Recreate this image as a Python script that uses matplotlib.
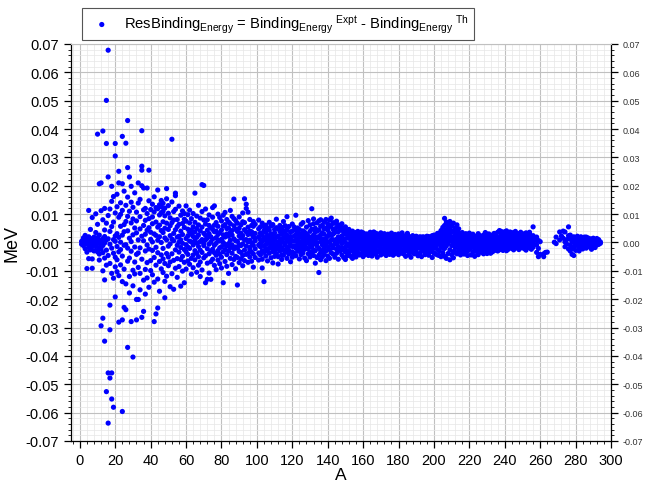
import numpy as np
import matplotlib
matplotlib.use("Agg")
import matplotlib.pyplot as plt
from matplotlib.ticker import MultipleLocator, FuncFormatter

plt.rcParams['font.family'] = ['Liberation Sans', 'DejaVu Sans']
plt.rcParams['mathtext.default'] = 'regular'

# residuals per mass number A, in keV (plotted as MeV)
light_rows = [
    (1, [0.4, -0.6]), (2, [1.6, -0.3, -1.1]), (3, [0.8, -2.2, 2.5]),
    (4, [-9.2, -0.5, 1.2, -3.4]), (5, [11.3, 0.3, -1.8, -5.7, 2.0]),
    (6, [-0.9, 1.4, -2.6, 4.6]), (7, [-9.1, -5.8, 0.6, -1.5, 8.8]),
    (8, [0.2, -3.0, 1.9, -0.7]), (9, [10.1, -1.2, 0.9, -2.8, 3.5]),
    (10, [38.2, -0.4, 1.7, -3.3, 0.0, 6.4]), (11, [20.7, -1.9, 2.6, -4.1, 0.8, -6.2]),
    (12, [-29.4, 21.0, 0.5, -2.4, 11.2, -0.9]), (13, [-26.7, 39.3, -10.0, 1.4, -3.6, 8.0, -1.1]),
    (14, [-34.8, -13.2, 4.4, -0.2, 2.1, -5.5, 12.0]), (15, [50.1, 34.9, -52.6, 0.9, -2.7, 6.8, -8.0]),
    (16, [67.8, -46.0, -63.7, 23.1, -4.6, 1.3, 9.5]), (17, [-47.8, -22.1, -30.8, 11.8, -0.6, 3.9, -7.4]),
    (18, [-46.0, 19.8, -55.2, 5.6, -2.0, 14.5, -10.9]), (19, [-58.1, 7.2, -3.8, 1.0, 16.2, -12.6]),
    (20, [34.9, 30.5, -19.2, 10.4, -5.2, 2.3, -8.6, 0.4]), (21, [-6.1, 12.6, 3.1, -1.4, 17.0, -10.3]),
    (22, [25.1, 21.0, -28.1, -3.3, 8.9, -11.7, 1.8]), (23, [-2.5, 14.0, 5.7, -7.9, 0.1, 9.9]),
    (24, [37.4, 20.7, -27.3, -59.6, -4.8, 11.3, 2.6, -13.8]), (25, [-22.9, -9.4, 6.3, 18.1, -1.0, 3.8]),
    (26, [35.0, -23.7, -0.8, 7.4, -14.6, 13.1]), (27, [43.0, 26.4, -37.0, 4.1, -6.6, 9.2, -2.0, 16.0]),
    (28, [23.1, -12.0, 1.5, -5.5, 11.0, -17.8]), (29, [19.8, -27.9, 6.9, -3.1, 0.3, 14.2]),
    (30, [-40.4, 8.3, -9.8, 2.7, -15.3, 12.4]), (31, [-1.6, 5.1, -6.9, 17.5, -11.1]),
    (32, [-27.3, 3.4, 10.7, -20.1, -4.2, 7.6]), (33, [-20.1, 21.0, -8.8, 0.9, 13.9, -3.7]),
    (34, [15.2, -10.9, 4.8, -1.9, 9.1, -16.7]), (35, [39.4, 26.9, 25.5, 20.0, -26.4, 2.2, -5.9]),
    (36, [-24.3, 19.2, -13.3, 6.0, 0.6, 11.5]), (37, [12.0, -3.0, 7.8, -9.5, 2.9, -18.2]),
    (38, [19.2, -7.1, 4.3, -0.9, 10.2, -12.5]), (39, [25.5, -15.8, 5.2, -2.3, 8.4, 14.7]),
]

medium_rows = [
    (40, [-6.4, 1.1, 11.6, -9.9, 3.6]), (41, [13.5, -2.8, 6.6, -11.4, 0.2, 9.0]),
    (42, [-27.9, 16.1, -5.3, 3.0, -14.0, 10.8]), (43, [-25.2, 7.2, -1.7, 12.3, -8.0, 2.5]),
    (44, [-23.1, 18.5, 11.9, -3.6, 5.4, -12.9, 0.8]), (45, [13.3, 9.7, -6.7, 2.0, -17.2, 6.1]),
    (46, [12.6, 14.8, 4.2, -4.4, -9.3, 0.0, 10.5]), (47, [11.0, 13.8, 7.3, -2.1, -10.6, 3.5, -5.8]),
    (48, [-19.5, 12.1, 1.6, -7.4, 9.4, -13.7, 5.0]), (49, [19.0, 15.4, -3.9, 6.8, -11.9, 0.9]),
    (50, [10.3, -1.3, 4.6, -8.2, 13.0, -5.1]), (51, [-6.9, 8.7, 2.4, -15.6, 5.9, -0.5]),
    (52, [36.4, 14.3, -4.0, 7.0, -11.0, 1.2]), (53, [-16.5, 10.9, 3.2, -6.3, 0.6, 7.9]),
    (54, [17.4, 16.5, -2.6, 4.5, -9.1, 11.7]), (55, [8.1, -5.7, 1.9, -12.3, 5.6, -1.0]),
    (56, [12.8, -3.4, 6.4, -8.5, 2.2, 0.1]), (57, [-15.4, 9.6, -1.8, 4.0, -6.0, 0.9]),
    (58, [11.1, -4.9, 2.8, -10.1, 6.7, -0.3]), (59, [10.2, -14.2, 5.3, -2.5, 8.2, -7.0]),
    (60, [7.5, -3.3, 1.4, -9.4, 12.9, -0.8]), (61, [-4.2, 4.7, 9.8, -1.6, 2.3, -6.5]),
    (62, [6.9, -2.1, 0.5, -7.7, 11.4, 3.6]), (63, [-5.6, 2.9, -11.2, 8.4, 0.2, 4.4]),
    (64, [10.2, -0.9, 5.5, -4.4, -8.9, 2.1]), (65, [17.4, 3.7, -2.9, 7.1, -6.1, 0.6]),
    (66, [-3.8, 1.8, 9.3, -10.5, 4.9, -0.2]), (67, [6.2, -1.4, 2.6, -5.0, 13.1, -8.0]),
    (68, [-2.7, 4.1, 0.3, -6.9, 8.6, -12.0]), (69, [20.4, 5.4, -3.5, 1.0, -9.7, 10.9]),
    (70, [20.1, 7.9, -1.1, 3.2, -5.4, -0.4]), (71, [-14.2, 2.5, -4.7, 6.5, 0.9, 11.8]),
    (72, [-13.0, 4.3, -2.2, 8.0, -7.3, 1.5]), (73, [6.0, -0.6, 3.1, -4.0, 9.7, -10.8]),
    (74, [-13.0, 2.0, -3.1, 5.2, 0.1, -6.8]), (75, [8.9, -2.4, 4.6, -5.9, 1.2, 12.3]),
    (76, [12.9, -1.0, 3.8, -8.1, 6.1, -3.6]), (77, [-4.5, 1.7, 7.0, -0.3, -9.6, 4.0]),
    (78, [5.7, -2.9, 0.8, -6.2, 10.0, 2.8]), (79, [-1.9, 3.4, -7.5, 8.8, 0.5, -4.1]),
    (80, [4.4, -5.2, 1.1, 7.6, -1.5, -9.0]), (81, [9.6, -14.2, 2.7, -3.3, 5.8, 0.0]),
    (82, [-2.5, 6.3, -6.7, 1.9, 10.6, -0.7]), (83, [3.0, -4.3, 8.1, -1.2, -8.4, 4.9]),
    (84, [-0.4, 5.1, -3.0, 2.2, -10.9, 7.2]), (85, [6.6, -1.8, 3.5, -5.6, 0.7, 11.3]),
    (86, [-7.8, 2.6, -0.9, 9.2, 4.2, -3.8]), (87, [15.3, 1.3, -2.3, 5.9, -6.0, 8.4]),
    (88, [-4.9, 0.6, 4.7, -1.6, 7.7, -9.3]), (89, [-15.0, 3.9, -2.0, 6.8, 0.4, -5.3]),
    (90, [2.3, -7.1, 5.0, -0.8, 9.0, -3.2]), (91, [-3.5, 1.6, 6.2, -5.8, 3.3, -1.1]),
    (92, [7.3, -0.5, 2.4, -4.6, 10.4, -8.2]), (93, [15.4, 4.5, -2.7, 0.9, -6.4, 7.0]),
    (94, [13.5, 12.0, -1.3, 3.7, -4.2, 1.0]), (95, [10.7, -3.9, 5.4, 0.2, -7.0, 2.8]),
    (96, [-1.7, 4.0, -5.1, 8.1, 0.8, -2.6]), (97, [6.0, -0.1, 2.9, -6.6, 3.8, -3.4]),
    (98, [-4.0, 1.9, 5.7, -1.0, 7.4, -8.7]), (99, [3.2, -2.2, 0.6, -5.3, 6.4, 1.4]),
    (101, [-0.9, 4.8, -3.7, 2.0, -6.2, 7.9]), (102, [5.5, -1.5, 1.0, -4.4, 3.3, -0.3]),
    (103, [-2.9, 2.6, 6.8, -5.9, 0.4, -9.0]), (104, [-13.8, 4.1, -1.2, 1.7, -3.5, 5.6]),
    (105, [0.9, -4.8, 3.6, -0.7, 6.1, -2.3]), (106, [-3.1, 1.2, 5.0, -6.5, 2.5, -0.4]),
    (107, [4.3, -1.9, 0.3, 7.1, -3.8, 2.1]), (108, [-0.6, 3.0, -5.4, 1.5, 5.8, -2.0]),
    (109, [2.7, -3.2, 6.3, -0.2, -7.2, 1.1]), (110, [-1.3, 4.6, -2.6, 0.7, 3.4, -4.9]),
    (111, [5.2, -0.8, 1.8, -3.9, 8.2, -1.7]), (112, [-2.2, 2.3, -5.0, 4.9, 0.1, -7.6]),
    (113, [3.9, -1.1, 6.0, -3.0, 1.3, -0.5]), (114, [-4.4, 0.5, 2.9, -1.8, 5.3, -6.0]),
    (115, [1.6, -2.7, 4.2, 0.0, -4.5, 7.4]), (116, [-0.2, 3.5, -3.4, 1.9, -1.0, 5.9]),
    (117, [4.5, -5.6, 0.8, 2.6, -2.1, 9.1]), (118, [-1.5, 1.4, -4.1, 5.6, 0.3, -2.8]),
    (119, [2.1, -0.9, 3.7, -6.8, 1.0, -3.6]), (120, [-3.3, 4.0, 0.6, -1.4, 6.5, -5.2]),
    (121, [2.2, -1.4, 0.4, -3.9, 5.5]),
]

heavy_rows = [
    (122, [0.8, -2.0, 2.8, -4.7, 9.6, 4.4]), (123, [-1.0, 3.3, -3.1, 1.2, 5.1, -0.6]),
    (124, [4.6, -1.7, 0.2, -5.8, 2.4, -3.0]), (125, [-2.6, 1.8, 6.4, -0.4, -4.3, 3.1]),
    (126, [1.3, -3.7, 4.1, -1.2, 0.5, 7.0]), (127, [-0.7, 2.5, -5.5, 3.6, -2.4, 1.0]),
    (128, [3.0, -0.3, -6.4, 5.4, 1.7, -1.9]), (129, [-4.0, 0.9, 2.2, -2.2, 7.7, -0.1]),
    (130, [1.9, -5.1, 3.9, -0.8, 6.2, -3.3]), (131, [11.9, -1.6, 1.1, 4.7, -3.9, 0.4]),
    (132, [2.6, -0.5, 6.6, -4.6, -2.7, 8.3]), (133, [-2.9, 3.8, 0.7, -7.3, 5.0, 1.5]),
    (134, [4.0, -1.3, 2.0, -5.3, 6.9, -0.2]), (135, [-10.6, 1.6, -2.1, 4.4, 7.6, -4.5]),
    (136, [0.3, 5.7, -3.5, 2.7, -6.1, 8.0]), (137, [3.4, -0.9, 6.1, -2.8, 1.2, -5.0]),
    (138, [-1.8, 2.9, 7.3, -4.2, 0.6, 4.8]), (139, [5.0, -3.0, 1.4, 8.1, -0.4, -6.4]),
    (140, [0.2, 4.3, -1.5, 6.5, -4.8, 2.2]), (141, [7.9, -2.5, 3.2, 0.1, 5.6, -5.6]),
    (142, [2.5, -1.0, 6.0, -3.6, 8.6, 0.9]), (143, [-4.1, 4.6, 1.0, 7.0, -1.9, 2.9]),
    (144, [6.8, -0.6, 3.5, -5.2, 0.5, 4.0]), (145, [1.1, 5.3, -2.4, 7.5, -3.8, -0.2]),
    (146, [3.8, -1.4, 6.2, 0.3, -5.9, 2.0]), (147, [-2.0, 4.4, 0.8, 5.8, -3.1, 1.6]),
    (148, [5.1, -0.3, 2.3, -4.4, 6.6, -1.8]), (149, [0.5, 3.6, -2.6, 4.9, -5.3, 1.2]),
    (150, [2.9, -1.6, 5.5, -3.3, 0.0, -6.0]), (151, [-0.8, 4.1, 1.5, -2.9, 3.0, -4.7]),
    (152, [3.3, -0.5, 1.9, -3.7, 4.6, -1.3]), (153, [0.7, 2.5, -2.2, -4.9, 3.8, -0.9]),
    (154, [2.0, -1.2, 4.0, -3.0, 0.4, -5.6]), (155, [-0.3, 3.1, -1.8, 1.3, -4.2, 2.4]),
    (156, [1.6, -2.8, 3.5, -0.6, -5.1, 0.9]), (157, [-1.5, 2.1, 0.2, -3.6, 3.9, -2.2]),
    (158, [2.7, -0.7, -4.4, 1.0, 3.2, -1.9]), (159, [-2.4, 1.7, -0.2, 3.7, -4.0, 0.6]),
    (160, [0.9, -3.2, 2.6, -1.1, -5.0, 3.4]), (161, [-0.5, 2.9, -2.5, 0.3, 1.8, -4.3]),
    (162, [3.0, -1.6, 0.8, -3.9, 2.2, -0.1]), (163, [-1.0, 1.4, -4.6, 2.8, 0.1, -2.7]),
    (164, [2.3, -0.4, 3.6, -3.4, 1.1, -1.5]), (165, [-2.1, 0.9, -0.6, 3.1, -4.8, 1.9]),
    (166, [1.2, -2.4, 2.0, -0.8, -3.7, 3.7]), (167, [-0.2, 3.3, -1.7, 0.6, -4.1, 1.4]),
    (168, [2.6, -3.0, 0.4, -1.3, 3.0, -5.2]), (169, [-1.4, 1.9, -3.3, 2.4, 0.0, -0.9]),
    (170, [0.6, -2.0, 3.4, -4.4, 1.5, -0.5]), (171, [-2.8, 2.7, -0.1, 1.0, -3.6, 0.2]),
    (172, [1.8, -1.1, -4.0, 3.1, -2.3, 0.7]), (173, [-0.6, 2.2, -2.9, 0.3, 1.3, -4.6]),
    (174, [2.9, -3.5, 0.9, -1.6, -0.2, 1.9]), (175, [-1.9, 0.6, -4.2, 2.6, -2.6, 1.0]),
    (176, [0.3, -1.4, 2.3, -3.1, 3.3, -0.7]), (177, [-2.3, 1.1, -0.3, -4.5, 2.0, 0.8]),
    (178, [1.4, -2.6, 2.8, -0.9, -3.9, 0.0]), (179, [-0.4, 1.6, -3.2, 0.9, 2.5, -1.8]),
    (180, [2.1, -0.6, -2.1, 1.3, -4.3, 3.0]), (181, [-1.2, 0.2, 2.6, -3.4, 0.7, -2.0]),
    (182, [0.5, -3.8, 1.7, -1.0, 3.4, -0.3]), (183, [-2.5, 1.4, -0.7, 2.1, -4.1, 0.4]),
    (184, [2.4, -1.7, 0.1, -3.0, 1.0, -4.9]), (185, [3.2, -0.8, 2.9, -2.4, 0.5, -1.4]),
    (186, [0.1, 2.0, -3.6, 1.5, -1.1, -4.4]), (187, [-1.6, 0.7, 1.9, -2.8, 0.2, -5.2]),
    (188, [1.0, -2.2, 2.4, -0.6, -3.5, 0.8]), (189, [-0.9, 1.3, -4.0, 0.4, -1.9, 1.8]),
    (190, [1.7, -3.3, 0.3, -1.5, 2.2, -0.2]), (191, [-2.0, 0.8, -0.8, 1.6, -4.7, 0.1]),
    (192, [0.6, -1.3, 2.0, -3.9, -0.3, 1.2]), (193, [-1.4, 1.9, -2.6, 0.5, -5.0, -0.5]),
    (194, [1.3, -0.4, 0.9, -3.1, 2.0, -1.7]), (195, [-0.7, 1.5, -4.3, 0.0, -2.2, 0.9]),
    (196, [2.2, -2.7, 0.6, -1.1, 1.4, -3.8]), (197, [-1.8, 0.4, -0.5, 2.1, -4.5, 1.1]),
    (198, [0.9, -1.9, 1.8, -3.3, 0.2, -0.8]), (199, [-0.3, 2.4, -2.3, 0.8, -5.3, 1.6]),
    (200, [1.5, -1.0, 0.5, -3.7, 2.6, -2.0]), (201, [-1.1, 1.1, -4.1, 0.3, -1.6, 2.0]),
    (202, [1.0, -2.5, 3.2, -0.7, -4.4]),
]

superheavy_rows = [
    (203, [2.0, -0.2, 1.2, -2.9, 3.3, -4.6]), (204, [0.4, 3.0, -1.4, 1.9, -5.0, 4.2]),
    (205, [5.3, -0.6, 2.5, -3.6, 1.0, -1.9]), (206, [8.5, 3.8, -2.1, 6.0, 0.3, -4.9]),
    (207, [7.2, 1.6, 4.5, -1.2, -5.6, 2.7]), (208, [6.3, -0.3, 3.4, -3.9, 5.0, 0.8]),
    (209, [4.9, 2.2, -2.6, 7.4, -6.1, 1.1]), (210, [3.6, -1.1, 5.8, 0.5, -4.3, 2.0]),
    (211, [6.8, 1.4, -3.2, 4.1, -0.7, -5.4]), (212, [2.6, 5.1, -1.8, 0.2, -3.5, 3.9]),
    (213, [4.4, -0.9, 1.7, -4.0, 6.2, 0.6]), (214, [1.9, 3.3, -2.4, -0.4, 4.8, -3.0]),
    (215, [3.0, -1.5, 0.6, 2.3, -4.4, 1.5]), (216, [0.8, 2.6, -3.1, 1.2, -0.8, 3.5]),
    (217, [2.2, -2.2, 0.1, -4.1, 1.6, -0.5]), (218, [-0.6, 1.8, 3.1, -1.7, -3.6, 0.4]),
    (219, [1.4, -0.9, 2.7, -3.0, 0.0, -4.6]), (220, [-1.3, 0.7, -2.5, 2.0, 3.3, -0.2]),
    (221, [2.5, -1.8, 0.3, -4.4, 1.1, -0.8]), (222, [-0.5, 1.2, -3.4, 2.9, -1.4, 0.6]),
    (223, [1.7, -2.6, 0.9, -0.3, -4.9, 2.2]), (224, [-1.6, 2.0, -0.7, 0.5, -3.2, 1.3]),
    (225, [0.9, -1.2, 3.1, -2.1, -4.3, 0.1]), (226, [-0.8, 1.5, -2.8, 0.2, 2.4, -1.5]),
    (227, [2.0, -0.4, 0.6, -3.5, 1.8, -2.3]), (228, [-1.9, 2.6, -1.0, 0.8, -4.0, 0.3]),
    (229, [1.1, -2.3, 2.2, -0.6, -3.1, 3.5]), (230, [0.3, 1.0, -3.9, 1.7, -1.2, 2.9]),
    (231, [2.4, -1.6, 0.0, -2.7, 3.0, -0.9]), (232, [-0.9, 1.9, -2.2, 0.6, -3.8, 1.4]),
    (233, [1.5, -0.2, 2.6, -1.9, 0.4, -3.3]), (234, [-1.2, 3.2, -0.8, 1.0, -2.9, 2.1]),
    (235, [2.9, -1.0, 0.7, -2.4, 1.9, -0.4]), (236, [0.2, 1.6, -3.0, 3.6, -1.5, 0.9]),
    (237, [1.8, -2.0, 4.2, -0.7, 0.3, -2.6]), (238, [-0.4, 2.7, -1.9, 1.3, 3.9, -0.1]),
    (239, [3.4, -1.4, 0.8, 2.0, -2.8, 1.2]), (240, [0.6, 3.8, -0.9, 1.8, -2.2, 2.6]),
    (241, [2.3, -0.6, 4.1, -1.7, 0.9, -2.9]), (242, [-1.0, 1.7, 3.0, -0.2, 2.5, -2.4]),
    (243, [3.7, 0.4, -1.3, 2.2, -0.5, 1.0]), (244, [1.2, -2.1, 2.8, 0.0, 3.3, -1.1]),
    (245, [-0.7, 3.5, 0.6, -1.6, 1.9, -2.6]), (246, [2.6, -0.3, 1.4, 3.9, -2.0, 0.2]),
    (247, [0.1, 2.2, -1.5, 1.0, 3.0, -0.9]), (248, [3.1, -1.2, 0.8, -2.5, 2.0, 0.4]),
    (249, [-0.4, 1.5, 3.6, -1.9, 0.6, 2.5]), (250, [2.0, -0.8, 0.3, 3.1, -1.4, 1.1]),
    (251, [1.0, 2.8, -2.2, 0.2, 1.6, -0.6]), (252, [-1.5, 0.9, 2.3, -0.1, 3.4, -2.7]),
    (253, [2.5, 0.1, -1.1, 1.8, -0.4, 0.7]), (254, [0.5, -1.9, 1.2, 2.9, -0.9, 3.6]),
    (255, [-0.2, 1.8, -2.4, 0.6, 2.2, -1.3]), (256, [5.5, 1.1, -0.5, 2.4, -1.7, 0.2]),
    (258, [0.7, -3.5, 1.9, -0.8]), (259, [-5.0, 0.7, -2.1]), (260, [-4.2, 0.3]),
    (262, [-4.0, -5.0]), (263, [-3.5]), (264, [-3.4]),
    (268, [0.1]), (269, [1.9, -0.4]), (271, [3.7, 0.9]), (272, [2.3]),
    (273, [4.0, 1.5]), (274, [3.7, 0.2, -1.5]), (275, [1.0, -0.6]),
    (276, [5.5, 2.4, -2.3]), (277, [-0.9, 1.2, 2.6, -3.0]), (278, [0.3, -2.1, 1.7, -4.2]),
    (279, [-4.6, 0.8, -1.4, 2.0]), (280, [1.3, -0.4, -2.8, 0.5]), (281, [-1.1, 0.9, 2.2, -0.2]),
    (282, [0.6, -1.9, 1.4, -3.0]), (283, [-0.5, 2.0, 0.2, -1.2]), (284, [1.1, -0.8, -2.3, 0.7]),
    (285, [0.0, 1.9, -1.5, 1.0]), (286, [1.9, -0.3, 0.6, -2.0]), (287, [-1.0, 0.9, 1.6, -0.5]),
    (288, [0.4, -1.6, 1.3, -0.2]), (289, [1.2, -0.9, 0.1, -2.4]), (290, [-0.6, 0.8, 1.5, -1.3]),
    (291, [0.9, -0.1, -1.8, 0.5]), (292, [-0.4, 1.4, 0.3, -0.9]), (293, [0.6, -0.7, 1.0]),
    (294, [0.2, -0.3]),
]

mass = []
res_mev = []
for rows in (light_rows, medium_rows, heavy_rows, superheavy_rows):
    for a, vals in rows:
        for v in vals:
            mass.append(a)
            res_mev.append(v / 1000.0)

fig = plt.figure(figsize=(6.5, 4.85), dpi=100)
ax = fig.add_axes([0.1092, 0.0887, 0.8308, 0.8186])

label = (r'ResBinding$_{Energy}$ = Binding$_{Energy}$$^{\ Expt}$'
         r' - Binding$_{Energy}$$^{\ Th}$')
ax.scatter(mass, res_mev, s=14, color='#0000ff', edgecolors='none', label=label, zorder=3)

ax.set_xlim(-5, 300)
ax.set_ylim(-0.07, 0.07)
ax.xaxis.set_major_locator(MultipleLocator(20))
ax.xaxis.set_minor_locator(MultipleLocator(4))
ax.yaxis.set_major_locator(MultipleLocator(0.01))
ax.yaxis.set_minor_locator(MultipleLocator(0.002))
ax.yaxis.set_major_formatter(FuncFormatter(lambda v, p: '%.2f' % (round(v, 3) + 0.0)))

ax.grid(which='major', color='#c0c0c0', linewidth=0.8)
ax.grid(which='minor', color='#e6e6e6', linewidth=0.5)
ax.set_axisbelow(True)

ax.tick_params(which='both', direction='out', top=False, right=True,
               labelright=True, labelsize=10.5, colors='black')
ax.tick_params(which='major', length=5, width=0.9)
ax.tick_params(which='minor', length=2.5, width=0.6)
for t in ax.yaxis.get_major_ticks():
    t.label2.set_fontsize(6.5)
    t.label2.set_color('#333333')

for side in ('left', 'bottom', 'right'):
    ax.spines[side].set_color('black')
    ax.spines[side].set_linewidth(0.9)
ax.spines['top'].set_color('#c0c0c0')
ax.spines['top'].set_linewidth(0.8)

ax.set_xlabel('A', fontsize=12.5, labelpad=0)
ax.set_ylabel('MeV', fontsize=13, labelpad=4)

leg = ax.legend(loc='lower left', bbox_to_anchor=(0.126, 0.915), bbox_transform=fig.transFigure,
                fancybox=False, framealpha=1, edgecolor='#555555', fontsize=10.6,
                markerscale=1.0, handletextpad=0.5, borderpad=0.35, borderaxespad=0)
leg.get_frame().set_linewidth(0.8)

fig.savefig('out.png', dpi=100)
